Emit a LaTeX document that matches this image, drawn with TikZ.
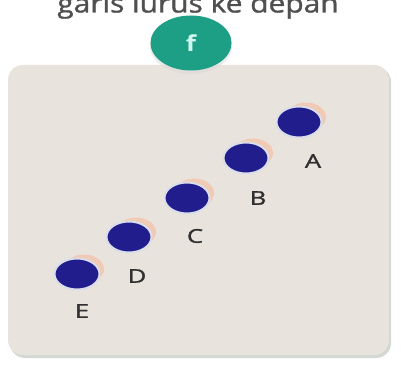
\documentclass[tikz,border=0pt]{standalone}
\usepackage{fontspec}
\setmainfont{Open Sans}
\newfontfamily\medfont{Open Sans}[FakeBold=1.2]
\usetikzlibrary{shapes.geometric}
\definecolor{boxc}{HTML}{E9E3DD}
\definecolor{boxedge}{HTML}{D3D8D2}
\definecolor{greenc}{HTML}{1C9F84}
\definecolor{fcol}{HTML}{CFF5EE}
\definecolor{ballc}{HTML}{221D8C}
\definecolor{haloc}{HTML}{D9DEEA}
\definecolor{shadc}{HTML}{F3C2A8}
\definecolor{labc}{HTML}{303030}
\definecolor{titc}{HTML}{505050}
\tikzset{
  x=1pt, y=1pt,
  ball/.style={ellipse, minimum width=45pt, minimum height=31pt, inner sep=0pt, fill=ballc, draw=haloc, line width=2pt},
  glow/.style={ellipse, minimum width=40pt, minimum height=29pt, inner sep=0pt, fill=shadc, opacity=0.75},
  lab/.style={font=\medfont\fontsize{19}{19}\selectfont, text=labc, xscale=1.35, transform shape, inner sep=0pt}
}
\begin{document}
\begin{tikzpicture}
\useasboundingbox (0,0) rectangle (401,-371);
\fill[white] (0,0) rectangle (401,-371);
% title (cut off at the top, as in the reference)
\node[font=\medfont\fontsize{26}{26}\selectfont, text=titc, xscale=1.15, transform shape, anchor=base, inner sep=0pt] (title) at (198,-12.5) {garis lurus ke depan};
% box
\fill[boxedge, rounded corners=15pt] (10,-67) rectangle (391,-358);
\fill[boxc, rounded corners=15pt] (8,-65) rectangle (389,-355);
% green badge
\fill[black!15, opacity=0.5] (191,-46) ellipse [x radius=41pt, y radius=28pt];
\node[ellipse, fill=greenc, minimum width=81pt, minimum height=55pt, inner sep=0pt] (badge) at (191,-43) {};
\node[font=\bfseries\fontsize{22}{22}\selectfont, text=fcol, xscale=1.2, transform shape, inner sep=0pt] (f) at (badge.center) {f};
% balls
\foreach \n/\x/\y in {A/299/-122, B/246/-158, C/187/-198, D/129/-237, E/77/-274}{
  \node[glow] (g\n) at (\x+7,\y+5) {};
  \node[ball] (b\n) at (\x,\y) {};
}
% labels
\node[lab] (lA) at (313,-161) {A};
\node[lab] (lB) at (258,-198) {B};
\node[lab] (lC) at (195,-236) {C};
\node[lab] (lD) at (137,-276) {D};
\node[lab] (lE) at (82,-311) {E};
\end{tikzpicture}
\end{document}
